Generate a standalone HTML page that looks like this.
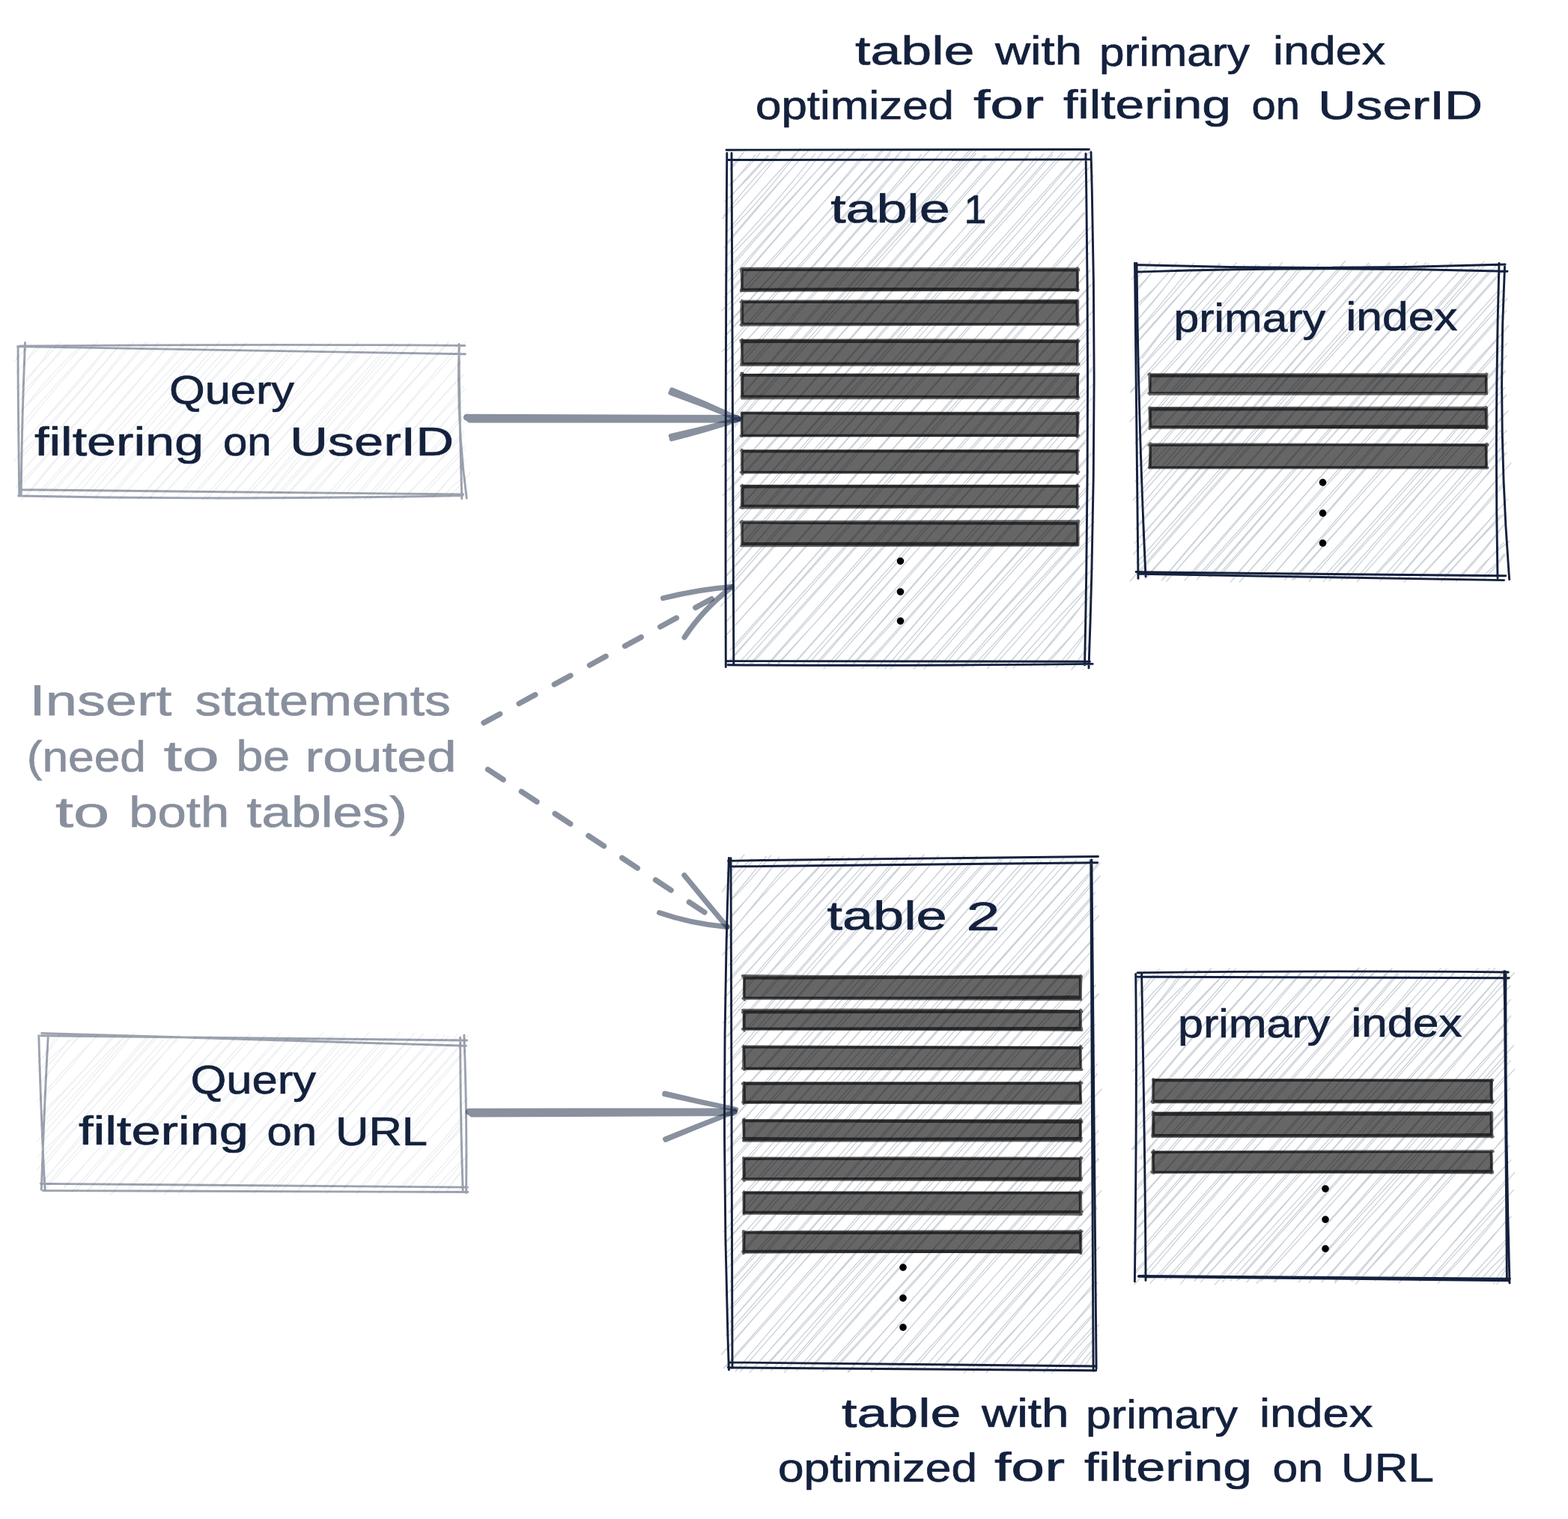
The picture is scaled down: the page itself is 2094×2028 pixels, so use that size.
<!DOCTYPE html>
<html lang="en"><head><meta charset="utf-8"><title>Tables with different primary indexes</title>
<style>
html,body{margin:0;padding:0;background:#fff}
body{width:2094px;height:2028px;overflow:hidden}
svg{display:block}
text{font-family:"Liberation Sans",sans-serif;white-space:pre}
text.dot{font-family:"Liberation Serif",serif;font-size:82px;fill:#000;text-anchor:middle}
</style></head>
<body>
<svg width="2094" height="2028" viewBox="0 0 2094 2028">
<rect width="2094" height="2028" fill="#fff"/>
<path d="M22.9 479.7C26.2 474.5 30.4 470.3 33.8 465.2M18.9 482.6C24.6 475.8 30.2 469.9 36.6 465.9M31.3 490.4C35.9 480.3 42 471.4 49 462.5M21.8 497C32.4 485.2 43.1 473.6 54.1 462M26.3 519.3C42 501.9 56.1 483.8 67.8 463.7M22.3 518.1C42.2 498.4 61 478.4 80.2 456.8M27.5 534C46.5 508 68.1 483.2 92.3 458.9M25.2 527.5C48 506 69.3 483.6 88.5 458.7M25.2 551.6C54.6 523.3 81.5 492.7 109.7 462M26.8 551.9C48.9 521.8 74.1 494.1 101.6 466.9M24.9 579.3C57.5 537.7 91.9 496.8 129.3 456.4M21.2 575.6C52.4 537.5 85 501.8 119.8 465.5M28.6 592.7C68.8 552.6 106.6 510.4 143.6 464.9M31.5 591.1C68 550.5 103.6 509.8 139.5 467M28.1 611.3C72.4 564.3 113.8 515.7 156.3 465.4M18.4 615.5C68.2 565.9 114.7 513.6 160.7 458.7M24.1 635.5C77 577.7 127.9 518.2 179 456.2M28.2 631.2C77.4 575.7 125.6 519.4 173 458.8M20.4 651.8C80.4 589.4 137.6 524.3 194.3 456.4M32.1 644.3C86.4 583.1 140.5 521.4 196.5 457.7M35.8 662.1C92 592.3 150.1 524.7 211.7 456.8M28.9 667.3C86.3 598 145.8 530 210.4 462.8M55.2 658.9C110.9 596.9 165.5 533.6 219.8 466.7M51 658.7C109.7 593.8 167.2 528.2 226.9 460.3M66.1 663.4C125.8 595.8 186.1 529 247.6 458.5M58.2 667C122 600 183 530.2 244.9 457.7M76.3 665C140.1 599.3 201.5 530.5 264.3 460.1M84.8 658.1C138.5 591.3 195.7 526.4 257.3 461.8M91 663.7C152.8 596.3 215.1 529.4 278.9 461.4M104.8 658.6C158.7 591.4 215.7 526.4 277.6 461.3M120.3 661.2C175.6 596.8 231 531.3 291 465.8M111.8 662.7C171.5 594.1 231.2 525.5 293.6 455.8M127.8 664.8C184.4 597.3 242.1 530.2 304.5 463.5M128 662.2C192.2 596.6 254.6 528.6 316.3 456.5M144 665.7C202.6 596.2 262.2 527.3 326.6 458.4M153.8 658C210.7 590.4 268.6 524.1 329.4 457.2M159 667.8C220.8 597.9 283.5 529.5 349.8 460.6M163.9 662.4C221.4 598.1 277.7 533 336.1 466.8M186.8 664.8C247.6 597.9 307 530.7 365.3 457.9M183.7 667.6C244.5 598.6 305.8 530.6 368.5 460.2M200.3 665.3C260.7 597 320.5 529.3 381.4 459.1M199 665C259.7 596.7 321.2 529.2 385.4 461.6M218.8 660C280.6 594.6 340.4 527.6 402.4 458.9M214.8 663.5C274.2 599.9 331.9 533.9 390.6 465.5M236.6 664.2C292 596 350.2 529.2 414.3 464.1M242.9 661.8C300.3 594.5 358.5 526.9 418.8 456.9M262 658.5C321.4 592.4 380.7 525.5 442 456.7M254.1 662.5C315.6 598.3 374.9 533.3 433.2 462.7M270.8 667.1C329 598.6 388.1 531 451.1 462.7M276.2 666.3C335.3 600.7 392.8 533.9 450.8 464.1M290.3 667.7C349.6 595.1 412.6 526.1 479 455.8M290.3 667.1C348.2 600.8 407.4 534.5 467.5 464.9M311.6 659.8C368.1 593.5 426.5 529.1 488.9 464.3M311.3 658.5C368 593.5 425.8 529.4 484.6 462.7M326.3 661.5C383.3 595 442.7 531.1 504.2 465.6M330.8 661.9C390.5 596.4 447.5 529.5 508.1 461.6M343.4 660.9C406.9 596.3 466.1 527.8 525.9 456.6M340.7 664.8C398.4 596.4 457 528 520.2 459.7M358.9 659.7C412.4 591.1 469.7 525.5 530.3 459.7M360.2 660.1C417.2 594.3 473.9 528.3 534.6 461.8M367.1 661.9C427.7 596.5 486.9 529.6 545.9 459M373.1 659.8C432.6 593.7 491.7 528 549.2 457.3M377.3 667.2C439.4 601.7 500.1 533.8 559.6 460.7M383.9 659.5C439.5 594.1 496.7 530.5 557.5 465.8M402.4 664.7C462.4 601.7 519.7 536 576.1 466.1M404.8 657.7C467.1 593.9 526.7 527 585.5 455.7M415.2 660.4C475.8 592.9 536.6 525.3 599.6 457.3M414.5 665.8C473.6 594.7 534 525.4 598.8 456.2M438.1 668.1C494.6 598.2 552.8 529.9 612.7 459.2M435.2 662.8C496.4 594.1 558.6 526.1 622.6 456M463 657.7C514.9 601.6 564.8 543.4 615 482.3M454.7 659.9C509.5 603 562.1 544.3 615.6 483.3M477.6 664.1C520.6 610.2 565.4 557.2 613.5 504.1M470 667.5C518.1 610.4 566.7 554.5 619.6 500.1M492.7 667C533.7 615.7 574.9 565.7 618.9 516.1M487 667C529.9 617.1 573.4 567.7 621.1 519.6M511.7 659.4C547.5 619.6 583 578.7 617.6 534.6M502.9 662.7C539 622 575.6 581.7 614.6 540.9M520.2 667.6C549.7 629.5 582.3 593 615.9 556.4M527.5 656.6C560.8 622.2 594 587.1 625.6 549.5M546 658.8C571.8 631.7 596.7 604.4 620.2 574.9M534.4 668.6C564.4 639.9 592 610.3 620.3 580.3M562.6 658.4C582.2 637.5 601.5 616.4 621.4 594.8M568.5 657.7C585.4 639.4 603.3 621 621.1 600.2M577.6 664C590.9 649.4 604.6 635 617.6 620M584.1 659.1C596.3 644.3 608.8 629.7 621.7 614M596.8 657.5C604.5 648.6 612.7 641 622.8 636.1M595.2 667.4C606.9 656.1 618.5 645.2 628 630.8" fill="none" stroke="#ccd2da" stroke-width="1.3" stroke-opacity="0.36" stroke-linecap="round"/>
<path d="M24.1 462.8C23.8 528.9 25.1 594.6 25.7 662M33.5 457.4C30.7 525.1 28.8 592.3 28.2 661.2M613 459.4Q613.5 562.5 616.8 665.7M613.2 462.4Q609.6 563.7 623.2 665M26.9 462C222.6 460.3 418.7 459.6 620.8 461.4M23.5 462.6C221 466.5 418.2 470.6 621.4 472.8M25.5 653.8Q322 657.1 618.6 660M24.6 662Q321.2 668.2 617.8 661.5" fill="none" stroke="#14213d" stroke-width="2.9" stroke-opacity="0.42" stroke-linecap="round"/>
<path d="M51.2 1417.7C62.4 1407.2 71.7 1395.7 79.4 1382.5M59.5 1407.7C64.3 1400.8 69.2 1394 72.9 1386.7M49.9 1430.6C65.8 1414.2 81.7 1398.7 99.6 1384.2M58.6 1427.1C71.3 1415.7 82.4 1403.7 91.4 1388.6M52.5 1445.8C70.5 1425.9 86.7 1405.1 103.8 1384.1M57.1 1445.4C71.3 1421.7 87.8 1400.9 108.2 1382.2M54.4 1468.6C79.6 1441.7 103.6 1413.4 127.6 1384.3M49.6 1470.1C74.9 1439.6 102.3 1410.5 131.4 1381.8M57.2 1483.9C90 1453.7 119.6 1421.4 147.7 1385.8M55.6 1490.8C88.3 1454.6 121.5 1419 154.3 1381.7M53.5 1503.9C89.2 1460.6 126.9 1420.5 168.5 1381.5M61 1501.1C98.4 1463.8 132.8 1423.5 168.1 1381.8M54.7 1527C97.4 1478.9 137.9 1430.1 179 1379M49.9 1523.7C89.6 1477.6 129.2 1431.5 171.4 1385.5M59.8 1541.6C104.4 1489.8 148.4 1438 194.5 1385.9M50 1544.7C101.8 1493.7 152 1440.9 199.5 1383.5M58.4 1558.1C105.6 1499.5 154.6 1441.6 207.8 1383.2M49.9 1561.3C101.9 1501.4 156.1 1443.6 211.4 1383.3M55.3 1581.4C106.8 1516.1 160.7 1452.4 217.7 1388.7M57.5 1576C115.7 1514 171.8 1449.9 229.4 1383.4M59.3 1588.7C121.1 1521.8 181.3 1453.4 240.1 1380.7M59.3 1585.5C115.8 1518.6 173.6 1452.7 236.8 1387.7M86.4 1585.6C144.6 1518.9 202.3 1452.4 262.1 1384.3M85.8 1584.1C145.2 1519.8 203.5 1453.9 262.1 1384.5M101.9 1589.5C161.2 1521.5 221.1 1453.9 281.3 1383.2M95.7 1591.8C155.9 1522.2 217.8 1454.1 281.9 1383.6M115.9 1591.1C173.8 1520.5 235.4 1452.8 300.6 1385.3M117.3 1590.4C177.7 1524 236.9 1456.6 298.6 1387.3M138.5 1589.5C193.8 1520.5 251.3 1452.3 314.2 1384.3M131.9 1587C194.7 1522.4 255.5 1455.8 314.7 1385M153.8 1587C211.2 1516.9 271.8 1449.4 334.4 1380.2M147.8 1595.2C209.6 1525.5 271 1455.8 334.9 1385.7M171.3 1586.9C230.1 1520.1 289.5 1453.1 351.2 1384.6M172.3 1589.6C231.2 1519.5 290.7 1451.1 354.3 1382.4M183.7 1590.8C245.7 1524 307.1 1456.8 371.5 1389.4M196.6 1586.3C257.1 1519.6 315.3 1451 374.4 1379.4M204.9 1591.6C263.5 1521.5 323.2 1452.2 386.8 1383.1M204.5 1590.1C265.2 1523.7 324.6 1457.3 384.1 1387.6M229 1588.7C286 1520.5 342.9 1453.2 402.6 1385.1M219.6 1595C281.9 1524.7 345.8 1455.5 411.2 1383.1M237.9 1593.5C297.3 1523.9 357.8 1456.1 420.4 1386.7M242.5 1590.1C302.5 1517.7 364.7 1447.8 431.7 1378.6M252.8 1594.4C316.1 1525.9 378.8 1456.4 441.6 1383.4M259.6 1591.4C319.3 1520.4 380.7 1451.6 445.5 1382.6M283.7 1584.8C341.5 1516.8 400.9 1449.8 461.2 1380.1M277.2 1587.2C339.9 1522.2 400.8 1455.5 461.2 1384.4M297 1583.8C355.3 1517.4 414 1451 477.2 1384.3M298.6 1583.9C352.6 1519.3 406.9 1453.9 465 1389.4M315 1586.6C376 1523.5 433.4 1458 490.5 1388.5M315 1586.5C371 1516.2 430.7 1447.9 492.6 1378.6M327.9 1590.2C388.5 1523.8 448.2 1457.7 508.3 1388.7M332.6 1588.3C395.1 1523.4 454.9 1455.8 515.8 1385.1M348 1590.9C410.7 1522.4 472.3 1452.3 534 1378.3M338.4 1594C400.8 1526.3 462.3 1458 523 1386.4M367.1 1590C425.6 1522 485.5 1454.7 548.1 1386.5M359.6 1592.3C423.6 1522.1 487 1451.2 553.2 1379.1M373.7 1593.3C435.7 1522.1 498.9 1451.8 565.3 1379.9M380.5 1585.6C439.4 1516.7 500 1449.1 565.1 1381M394.3 1593.9C454.7 1525.5 513.5 1457.1 575.4 1387.3M399.5 1586.8C459.3 1517.7 521.3 1449.5 585.7 1379.9M418.3 1585C479.7 1520.8 537.4 1454.1 593.8 1382.2M414.8 1586.6C474.2 1518.6 534.5 1450.8 599.3 1383.5M431.6 1587.5C488.2 1518.8 546.2 1451.3 610.1 1385.9M432.9 1585.3C489.5 1516.2 549 1448.8 611.5 1380.2M441.5 1585.4C502.6 1522.8 562.4 1458.7 621.4 1389.2M435.6 1594.2C498.9 1525.2 562.7 1456.3 625 1382.1M454.4 1591.9C506 1530.1 558.3 1470 613.8 1409.6M460.2 1586.7C515.3 1528 568.7 1466.6 622.8 1401.2M478.6 1587.4C523.1 1532.5 569.9 1479.8 620 1425.9M475.5 1594.1C523.7 1542.5 568.9 1487.7 614.8 1430.4M500.4 1586.8C537.6 1538.4 575.8 1491.7 618.8 1445.9M498.5 1585.8C536 1536.5 576.9 1490.5 620.9 1444M510.2 1588.9C547.9 1547.4 587.1 1506.8 625.9 1464.9M505.9 1594.2C544.1 1552.5 582.2 1511.1 621.6 1469.3M536.2 1586C568.5 1553.9 598.9 1520.6 626.4 1484.2M529.7 1589.3C561.6 1556.5 593.1 1523.2 621.5 1485.5M544.9 1585.7C570.7 1558.1 595.2 1529.7 618.7 1500M547.9 1584.2C569 1556.9 591.9 1530.7 618.1 1506.4M562.1 1592.7C582.9 1571.6 603 1549.3 622.1 1525.9M561.9 1588.6C580.8 1567.6 599.5 1546.4 619.1 1523.6M575.5 1594.7C588.8 1577.1 603.5 1561.5 620.4 1546.2M581.1 1594.4C596.7 1578.4 611.7 1560.6 625.9 1540.7M598 1590C604 1577.7 612.5 1566.5 623.3 1557.1M595.3 1590.4C604.6 1579.1 614 1567.8 623.5 1556.2M615.4 1586.5C617.2 1586.4 619 1585.3 621 1583.8M609.2 1591.3C614.2 1588.7 617.7 1585.1 618.3 1579.3" fill="none" stroke="#ccd2da" stroke-width="1.3" stroke-opacity="0.36" stroke-linecap="round"/>
<path d="M51.8 1382.8C53.8 1451.2 55.8 1519.8 60.2 1590M64.3 1382.7C60.5 1450.7 57.7 1518.3 55.3 1588.4M614.6 1385.3C614.9 1452.5 615.6 1520 618.2 1589.6M619.8 1381.9C622.5 1450.9 623.3 1520.4 622.6 1592.5M54.8 1382.8C242.3 1385.2 429.9 1387.6 623.6 1389M55.7 1379.4C242.9 1384.4 429.8 1390.3 622.5 1396.3M54.3 1580.3C242.8 1582.3 431 1583.7 624.4 1585.1M57.2 1589.6C244.4 1591.1 431.9 1592.6 624.9 1591.5" fill="none" stroke="#14213d" stroke-width="2.9" stroke-opacity="0.42" stroke-linecap="round"/>
<path d="M974.4 226.2C979.9 218 986.8 210.8 993.7 203M974.1 226.3C982 221 987 213.4 991.2 204.9M973 247.5C988 234.8 1002.2 220.5 1014.7 204.6M975.3 248.2C986.4 235.2 998 221.9 1008.4 207.2M975.7 263.2C991 244 1008.4 225.8 1025.8 207.2M967.1 269.6C987.8 250.3 1007.3 230.3 1026.4 208.3M964.9 291.8C992.3 263.8 1018.5 234.7 1042.2 202.3M966.5 287.9C990.1 257.4 1015.2 227.7 1043.5 199.3M970.1 310.9C998.7 273.8 1030.2 239.9 1062.5 205M978.7 304.3C1011.2 271.6 1040.3 236.6 1068.5 198.3M970.3 324.8C1005.3 283.1 1041.4 241.5 1080.3 200.4M967 331.1C1001.9 289.4 1037.3 247.6 1074.2 206M971.4 340.6C1012.6 297.5 1051 252.7 1088.6 205.2M978.3 339.3C1019.5 296.5 1059.2 251.9 1098.5 203.3M970.8 359.7C1016.2 306.7 1064.3 255.9 1113.6 203.8M967.5 367.4C1013.5 313.7 1060.9 261.5 1109.4 207.1M972.6 375.4C1023.8 315.9 1076.8 258.3 1131.5 198.5M976.4 376.5C1022.5 319.2 1071.1 264.1 1121.7 206.7M967.7 397.2C1023.9 330.8 1081.1 266.4 1141.2 201.5M976.6 389.8C1030.1 324.4 1086.1 261.1 1146.3 198.3M972.8 414.2C1034.6 347.3 1093.8 278.5 1153.6 205.9M964 414.8C1030.3 348.3 1093.4 278.4 1157.9 205.1M973.7 429.6C1043.4 354.9 1110.3 279.1 1179.1 201.6M969.9 436.2C1039.5 358.8 1108.8 281.3 1178.6 198.8M967.1 451.1C1041.5 368.5 1115.5 285 1191.7 199.5M970.5 445.9C1042.3 365.9 1113.7 286.1 1188.8 206M968.4 470.7C1044.6 384.2 1120.7 296.8 1199.8 207.3M964.4 469.5C1044.2 380.2 1123.5 290.8 1205.5 199.7M972.5 481.5C1054.3 391.3 1134.7 299.6 1215 203.8M969.7 484.5C1052.9 394.3 1133.9 303.5 1214.7 207.7M970.1 500.2C1058.7 405.7 1144.5 308.5 1230.4 206.5M978 499.5C1063.9 400 1151 300.9 1241.8 200M975.1 523C1064.9 417.4 1156.6 313.7 1252.8 208.3M970.2 522.4C1062.9 415.3 1158.7 309.8 1258 202.1M979.6 540.6C1078.4 427.6 1177.7 314.8 1280.6 199M973.3 547.8C1071.6 432 1171.4 317.1 1274.5 198.8M970.3 569.7C1078.2 447.2 1186.7 324.2 1300.1 198.7M971 565.1C1077.7 444 1185.7 322.7 1296.8 198.3M970.2 582.3C1080.6 458.3 1190.7 333.5 1303.1 205.2M972.9 576.9C1080.7 450.4 1190.2 325.4 1305.2 199.2M969.6 601.8C1086 473.8 1200.4 344.3 1315.2 207.2M972.1 603.4C1083.4 470.1 1198.5 340.5 1317.2 208M973.2 616.8C1091.3 481.8 1209.7 347.7 1330.8 209.2M964.4 622.8C1090.5 483.6 1216.3 344.3 1343.3 198.8M969.4 643.5C1093.8 498 1219.5 354.9 1350.2 207.9M973 639.2C1100.1 494.7 1227.4 349.5 1358 199M974.3 654.3C1110.9 506.3 1244.6 356.1 1379.1 198.9M965.4 661.4C1101.9 514.2 1235.9 364.2 1373 208.2M972.4 673.7C1111.3 518.7 1249.6 363.4 1393.8 205.2M974.2 676.3C1107.6 520.9 1244.2 366.8 1385 209M971.1 696.2C1116.9 536.1 1260 374.3 1405.7 206.4M969.4 697.9C1114.9 535.4 1259.5 371.8 1406.5 202M970.1 717.7C1117.6 546.3 1267 377.6 1422.1 204.6M970.5 712.5C1116.6 543.3 1263.9 375.4 1418.2 204.3M973.7 730.3C1132 558 1288.6 383.6 1445.8 200.7M972.7 731.1C1126.2 554.1 1283.2 379.2 1445.8 199.3M968.5 752.3C1127.9 573.1 1287.1 393.1 1450.3 207.2M978.9 746.4C1134.7 563.9 1292.5 383.8 1457.3 200.5M967.8 770.5C1129.6 589 1291.1 406.6 1458.7 219.3M970.7 768.8C1127.5 589.1 1285 408.7 1448.8 224.3M977.1 780.8C1133.4 603.5 1288.4 425.1 1448.2 241.6M970.4 783C1131.3 601 1292.6 420.2 1460.4 234.5M962.2 809.6C1121.9 626.3 1283.4 445.5 1451.1 261.2M972.7 798.4C1131.6 622.3 1289.5 444.4 1451.2 260.3M977.3 822.3C1132.3 644.7 1287.2 466.6 1448.9 284.4M969.9 830.2C1129.5 652.4 1287.1 471.5 1447.7 283.4M967.3 850.8C1129.6 672.6 1288.6 492.4 1450.7 304.6M971.4 846.3C1132.5 666.3 1292.9 485.9 1459 300.7M975 868C1136.3 689.2 1295.5 509.5 1456.6 322.4M979.6 866.9C1137.4 687.5 1295.3 506.8 1457.8 319.3M971.5 884.4C1132.9 705.4 1292.7 525.1 1455 337.6M968.6 890.3C1125.4 708.1 1283.1 528.1 1448.1 345.9M987.9 883.8C1144.2 712.9 1299.5 540.5 1456.1 360M992.3 886.4C1146 714 1298.3 540.5 1455.3 361.7M998.6 889.4C1150.7 722.1 1301.5 553.7 1456.5 379.9M1003.6 886.8C1154 720.2 1303.9 552.7 1458.6 379M1025.3 886.2C1167.1 725.7 1308.7 565 1454.8 398.3M1026 887.1C1170.5 728.3 1311.1 566.2 1455.2 398.7M1036.4 890.2C1176.1 733.2 1316 576.5 1459.4 414.9M1039.3 885.3C1180.3 732.5 1319.5 577.9 1459.7 415.6M1058.3 889C1190.2 740.9 1321.4 592.3 1453.8 437.2M1062.9 882.7C1192.9 736.2 1322.9 589.3 1456.8 438.7M1081.5 884.3C1204.1 742.3 1327.9 601.4 1455.5 457.2M1070.6 888.8C1197.6 747.7 1322.6 605.4 1450.6 458.1M1092.2 886.4C1209.8 750.6 1327.7 615.4 1449.6 476.3M1091.5 883.9C1212 748.4 1332.8 613.3 1456.5 473.6M1112.1 885.4C1227.2 754.9 1341 624.4 1458.7 490.4M1100.1 892.9C1217.7 760.6 1336.3 628.5 1458.7 493.4M1126.5 888.7C1234.5 762.2 1344.5 637.2 1461.2 511.6M1130.5 884.6C1234.5 764.1 1340 644.1 1447.9 519.9M1137 890.4C1246.6 774.8 1352.7 656.3 1459.1 530.7M1139.3 885.8C1244.5 771.7 1346.9 654.9 1450.1 533M1151.5 892.5C1251.3 782.5 1349.3 670.9 1449.1 554.7M1161.1 885.2C1259.7 774.9 1357.1 663.6 1455.2 547.1M1172.7 890.2C1264.6 782.1 1358.4 674.5 1457.9 566.6M1171.1 892.6C1261.7 787.1 1352.9 681.8 1448.5 574.8M1189.3 893C1273 791.3 1358.9 691.7 1449.1 591M1181.8 892.7C1270.3 790.7 1359.3 688.2 1452.8 584.8M1208.5 884.4C1292.1 791.6 1377 698.9 1461.8 601.6M1205.2 884.8C1290.1 795.4 1372.4 702.8 1456 605.3M1220.6 892.8C1298.1 806.9 1375.1 719.5 1454.3 629.7M1222.1 889.6C1300.3 807.4 1375 723.3 1448.5 634.2M1234.1 893C1304.6 809.7 1377.5 727.7 1455.9 645.4M1241.3 889.2C1310.1 809.3 1379.9 730.9 1453.3 652.2M1262.3 887.4C1322.6 812.9 1385.7 741.7 1451.7 668.7M1260.2 883.4C1325.2 810.5 1390.4 737.1 1459.2 663M1272.8 886.6C1332.9 823.2 1391.1 756.8 1450.8 687.5M1270.7 889.1C1335.1 822.4 1397.3 754.1 1459.5 681.7M1288.5 889.5C1344.7 828.7 1398.8 766.6 1456.1 702.5M1284.7 891.4C1341.3 824.7 1399.9 761.1 1461.2 696.5M1298.1 890.9C1351.5 834.1 1403.5 776.2 1456.5 716.2M1306.3 888.5C1355.2 830.3 1405.3 773.8 1459.6 717.9M1328.7 887.5C1371.6 840.8 1412.3 792.5 1454.2 742.5M1318.6 892.6C1363.6 839.4 1410 788.5 1459.3 738M1342.5 891.7C1379.2 850.2 1415 808.3 1451.2 764.2M1346.3 886.6C1383.5 844.3 1420.8 801.5 1460.1 758.5M1353.1 892.1C1386 853.2 1421 815.5 1458.4 777.7M1365.9 885.6C1397 852.6 1426 818.6 1454.9 783M1375.7 890.1C1401.5 863 1426.2 834.7 1448.6 802.7M1380.5 886.8C1403.7 856.7 1427.6 826.2 1455.5 796.6M1393.6 888C1415.8 865.8 1437.4 842.7 1456.9 817.2M1394.5 890.6C1414.4 870 1432.3 847.8 1450.5 824.8M1419 888.4C1430.9 875 1441 860.1 1450.4 844.5M1410 891.4C1422.7 876.9 1434.8 862.4 1447.6 846.9M1435 890.3C1439.2 881.7 1444.7 873.6 1451.8 866.2M1430.9 894.2C1438.3 882.7 1447.1 872.3 1455.2 860.6" fill="none" stroke="#ccd2da" stroke-width="1.3" stroke-opacity="1.0" stroke-linecap="round"/>
<path d="M970.8 204.5Q968.4 547.5 969.3 890.6M977 204.5Q979 546.2 979.8 888M1450 205.2Q1455.7 546.5 1448.6 887.9M1457 203.2Q1466.5 547.6 1454 891.9M970 200.3C1130.1 199.2 1289.9 199.8 1454.4 199.5M971.7 213.5C1131.7 213.9 1291.3 212.9 1455.7 212.9M970.9 882.6C1130.7 881.4 1290.6 882.3 1455.5 883.3M972.3 887.7C1132.8 888.9 1293.4 888.3 1459.2 886.4" fill="none" stroke="#14213d" stroke-width="2.9" stroke-opacity="1" stroke-linecap="round"/>
<path d="M1511.5 373.3C1514.4 367.3 1518.9 362.1 1524.5 356.6M1518.4 370.5C1525.8 365 1531.6 357.7 1536.4 349.1M1520.7 382.8C1531 372.4 1540.8 361.9 1549.4 350.2M1515.6 391C1526.6 378.9 1536.8 366.1 1547.6 352.1M1522.1 407.1C1538.8 389.6 1555 370.4 1571.4 350.4M1520.6 404.6C1536.4 391.3 1550.3 376.1 1563.8 360.2M1518.4 427.7C1537.2 405.2 1556.5 383.1 1574.5 359.3M1517.5 429C1537.2 407.4 1555.9 384.8 1573 359.3M1514.9 446.5C1542.8 416.4 1568.3 384.1 1594.1 351.3M1518 444.3C1545.3 416.7 1572 388.3 1596.5 355.4M1517.4 458C1546.2 424.4 1575.7 391.1 1607.9 358.3M1514.6 461.5C1547.1 427.4 1577 391.6 1607.9 355.1M1516.3 486.5C1551.8 440.9 1588.7 396.5 1628.6 351.7M1525.4 478.3C1557.3 434.3 1591.8 393.3 1630.2 353M1521 494.2C1565 447.5 1607.9 400.4 1651 350.8M1516.3 498.5C1555.6 451.4 1595.5 405.1 1637.2 358.2M1509.3 523.6C1556.4 466.8 1604.8 412.3 1657.8 358.6M1510.1 523.8C1562.6 469.7 1613.2 414.1 1661.9 353.8M1518.7 533.4C1572.2 474.8 1625 415.7 1677.9 352.8M1521.7 532.8C1576.5 476 1628.6 416.9 1681 354.3M1527.1 552.8C1579 486.3 1634.2 422.3 1692.8 356.8M1508.6 563.1C1572.7 494.7 1635.4 425.5 1697.1 351.4M1523.2 571.5C1581.8 500.1 1641.2 430.1 1704 360M1519.3 578.1C1584.7 504.6 1648.1 429.1 1712.4 350.3M1519.7 586.4C1585.9 507.1 1654.8 431.4 1727 354M1515.5 591.9C1585.8 517.2 1652.8 439.3 1720.9 358.4M1522 604.8C1593.5 524.4 1664.8 442.7 1735.5 356.2M1517.2 608.5C1592.4 526.1 1666.4 442.3 1741.1 355M1526.4 622.5C1602.7 533 1679.5 443.1 1761.2 352.1M1516.4 626.6C1597.4 538.9 1676.8 449.6 1758 357.3M1515.8 643C1602.5 549.6 1687 455 1772.4 356.2M1520.6 646.5C1603.7 551.9 1685.5 457 1769.1 359M1516.8 669.5C1607.6 565.5 1697.7 460.9 1793.9 354.8M1513.2 667.7C1604.3 560.3 1698 455.3 1796.4 348.7M1525.1 682.6C1616.7 573.1 1710.8 465.9 1809.4 356.6M1519.8 679.8C1611.9 571.3 1707 464.9 1806.3 355.6M1518.1 702.8C1619.4 585.1 1723.3 470.6 1829.6 353M1516.5 706.7C1619 590 1722 472.7 1827.7 351.3M1525.3 715.3C1626.4 596.7 1728.8 478.8 1835.4 359.6M1515.1 725.3C1623.3 605.1 1728.6 482.7 1836 355.7M1516.4 736.5C1626.1 606.9 1738.5 480.2 1856.6 352.2M1513.8 739.8C1626.6 611 1739 482.4 1855.3 350.2M1517.8 751.4C1633.7 621.6 1749.4 491 1866.4 354.8M1521.5 754.6C1637.3 619.8 1756.1 487.1 1878 351M1519.6 767.2C1640.2 627.6 1763.5 490.1 1892.3 349.6M1509.4 775.7C1631.4 635.8 1753.7 496.7 1881.5 354.8M1530.2 772.4C1653.3 633.3 1777.5 494.6 1907.6 352.3M1528.6 772.1C1654.7 634.7 1778.9 495.7 1904.6 350.2M1553.2 773.4C1669.5 635.7 1788.2 499.3 1912.6 360.2M1551.1 775C1668.8 635 1789.9 498.1 1915.5 358.2M1565.3 768C1686.5 628.1 1810.2 490.8 1938.9 350.5M1557.8 776.2C1681.6 638.5 1805.2 500.8 1931.4 358.6M1582 775.1C1703.1 633.7 1827.8 494.8 1958 352.1M1589.6 769.6C1707 631.2 1827.2 495.3 1953.1 356.9M1598.5 773.9C1723.5 636.1 1845.4 496.8 1971.4 353.1M1599.6 768.9C1721.5 634.6 1841.3 498.3 1964.4 357.8M1614.3 770.7C1733.9 631.3 1856.9 494 1983.5 353.3M1616.4 770.9C1735.9 630.4 1856.4 491.1 1982.1 348.9M1631.6 766.4C1749.1 631 1868.7 497 1991.4 359M1626.7 768.2C1748.8 631.8 1871.6 495.7 1997.9 355M1643.4 777.2C1760.7 638.6 1880.8 502.7 2005.6 363.2M1651.8 766.3C1768 630.2 1885.3 496 2007.3 358.9M1655.3 777C1772.6 648.3 1888.3 518.4 2008.6 385.8M1662.9 768.4C1773.4 641.1 1886.1 515.2 2002.8 385.9M1684.3 768.3C1793.1 645.8 1901.2 523.3 2009.6 395.3M1681.7 766.2C1789.6 644 1898.6 522.5 2012.8 398.8M1696.2 772.7C1795.8 654.9 1897.5 539.1 2002.8 421.3M1699.3 769.4C1801.8 651.4 1904.1 533.8 2011.8 414.4M1715.9 774.4C1811.6 660.7 1910.3 548.6 2014.8 434.7M1717.8 771.6C1815.6 663.7 1911.4 554.6 2009.7 441.5M1725.5 774.1C1818.6 672.3 1910.6 568.8 2004.6 461.7M1728 774.4C1820.4 668.6 1913.6 564 2012.6 458.4M1748.1 776.5C1832.5 679.1 1917.9 582.6 2007.1 483.7M1751.5 766.2C1840.1 672.4 1925.3 575.4 2011.9 475M1770.2 767.2C1850.7 678.8 1930.6 588.5 2010.6 494.3M1767.3 776.4C1849.5 685.9 1930 594 2009.9 496.7M1775.2 775.5C1853 690.2 1929.6 604.9 2005.7 514.3M1781.2 770.1C1859.9 688.6 1934.6 604.8 2009.7 517.2M1791.2 774.7C1863.5 693 1936.2 611.1 2011.3 528M1798.7 773.3C1867.6 691 1937.8 609.5 2011.7 527.1M1812.7 770.7C1877.1 694.8 1943.8 621.9 2014.1 548.1M1812.4 776.3C1879.7 702 1947.1 627.7 2013.3 549.1M1835.6 767.8C1892.1 705.5 1947.7 641.4 2003.9 574.5M1836.9 768.7C1896.3 705.5 1953.5 640.8 2012.1 574.5M1843 775.5C1897.4 713.5 1952.6 652 2011.9 590.6M1855 770C1905.9 710.7 1957.8 653.1 2010.1 593.1M1867.4 771.3C1914 715.7 1962.4 660.7 2012.3 604.4M1869.9 769.6C1916.3 716.1 1962.4 661.6 2009.3 604.9M1875.2 777C1923.9 725.9 1971.7 674.4 2018 617.9M1882 768.9C1925 723.3 1966.8 677.5 2008.7 628.5M1896.7 769.9C1934.8 729.8 1971.8 688.1 2008 643.9M1894.1 773.8C1932 733.5 1970 692.3 2007.5 648.6M1917.5 773.1C1948.9 739.5 1980.9 705.7 2010.7 669.1M1921 766.9C1952.3 734.5 1983.3 701.7 2013.3 666.4M1931.4 767.6C1955.5 740.8 1979.6 714.3 2004.1 687.7M1924.4 776.8C1952.1 744.9 1980.2 714.5 2011.1 684M1948.5 770.3C1969.9 747.8 1989.2 724.6 2008.9 700.1M1944.3 776.9C1966.7 753.9 1987.6 730 2006.4 703.3M1964.9 771.8C1979.6 753.5 1996 736.7 2016.2 722.4M1969.5 770.1C1981.9 754.2 1994.1 738.6 2008.6 724.1M1981.4 772.7C1992.4 763 2002.5 751.8 2011.1 738.8M1982.5 767.2C1992.2 759.2 2001.7 750.9 2008.2 739.7" fill="none" stroke="#ccd2da" stroke-width="1.3" stroke-opacity="1.0" stroke-linecap="round"/>
<path d="M1515.5 351.2Q1518.2 561.8 1520 772.4M1518 351.4Q1520 560.5 1530 769.6M2002 351.4Q1996 561.5 2000 771.7M2009.5 355.8Q1999.4 564.7 2015.7 773.6M1517.3 353.5Q1763.7 361.4 2010.1 353M1519.6 363Q1766.3 354.8 2013 362.2M1517.1 763.5C1680.5 766.6 1843.5 767 2010.8 768.8M1519.7 766.3C1681 767.8 1842.4 771.1 2008.6 774.6" fill="none" stroke="#14213d" stroke-width="2.9" stroke-opacity="1" stroke-linecap="round"/>
<path d="M978.8 1160.4C983.7 1154.3 988.4 1148 993.8 1141.1M970.5 1165.9C977 1163.7 981.8 1159.2 984.6 1152.2M964.1 1190.8C975.1 1173.4 988.3 1159.3 1004.4 1146.5M971.5 1189.7C981.7 1174.9 993 1161.1 1006.8 1148.3M977.4 1201C995.2 1182.8 1012.6 1163.6 1029.5 1142.2M976.2 1200.5C992.4 1182.1 1007.4 1162.4 1023.4 1143.5M974.9 1226.6C997.5 1202.3 1017.3 1175.5 1038.4 1147.9M975.5 1223.8C999.7 1199.3 1021.4 1173.5 1040.5 1144.3M968.5 1254.3C998 1217.8 1029.5 1182.3 1065 1147.9M971.7 1251.1C998.1 1217.9 1025.1 1184.2 1054.9 1150.9M973.1 1265.2C1009.5 1226.1 1045.2 1186.2 1084.7 1147.7M964.6 1275.1C1002.5 1233.7 1041 1192.6 1080.6 1151.4M972.6 1289.3C1016.9 1240.6 1062.1 1192.6 1108.1 1143.1M978.9 1287.9C1019.4 1238.3 1060.8 1189.9 1106.8 1143.2M968.3 1313C1017.2 1259.1 1065.3 1204.7 1114.5 1148.6M974.5 1309.5C1024.2 1253.6 1073.4 1198 1126.4 1142.9M973.5 1324.6C1025.2 1267.9 1077.3 1211 1130.5 1151.6M966.9 1333C1022.7 1270.6 1078.8 1209.6 1134.3 1144.4M976 1345.5C1029.1 1279.4 1085.5 1215.7 1145.4 1150.6M971.9 1344.4C1029 1275.6 1089.3 1209.2 1153.2 1141.1M972.5 1366.3C1031.5 1293.4 1091.5 1222.4 1156 1151.9M965.2 1365.8C1035 1293.8 1102.1 1219.8 1169.9 1142.5M972.3 1383.2C1040.5 1307.2 1108.6 1230.9 1176.6 1150.4M969.3 1384.6C1036.6 1306.9 1105.1 1229.3 1176.6 1150.8M972.2 1400.7C1048.7 1317.1 1123.2 1232.2 1197.9 1143.8M975.8 1402.4C1049.4 1317.6 1122.9 1233.2 1199.1 1147.3M970.5 1421.4C1048.3 1326.8 1129.5 1234.7 1215.6 1141.7M977.3 1416.4C1057 1327.6 1134.7 1236.7 1214.2 1143.6M974.1 1436.1C1058 1338 1144.7 1242.8 1234.5 1144.7M968.7 1442.7C1054.4 1341.3 1141.5 1241.6 1234.2 1141M964 1465.3C1061.5 1360.8 1156.6 1253.9 1253.5 1142.1M966.2 1463.5C1059.8 1359.7 1153.7 1256 1249.2 1146.7M972.4 1476.8C1072.1 1371.3 1168.9 1262.7 1267.2 1148.8M968.6 1481.2C1066.6 1372.2 1163.9 1263.8 1265.3 1152.1M976.5 1496.7C1080.9 1385.5 1182 1271.2 1285.5 1152.4M971.1 1503.3C1074.4 1383 1178.7 1263.7 1287.8 1142.2M971.1 1519.8C1080.6 1396.3 1190.4 1273.8 1303.4 1147.5M975.1 1517.1C1081.9 1391.5 1190.9 1268.1 1304.6 1142.7M971.9 1537.1C1087.6 1409.7 1201.2 1281.3 1318.8 1149.6M966.4 1540.7C1079.3 1409.7 1195.4 1281.8 1315.4 1150.2M978.2 1552.1C1098.4 1418.7 1216.6 1284 1337.6 1144.4M970.8 1556.2C1093.5 1422.3 1214.4 1287.8 1338.2 1147.7M975.3 1577.4C1095.9 1434.1 1220.3 1294 1349.7 1150.2M969.2 1577.4C1096.4 1436.8 1222.1 1294.9 1350.9 1147.7M977.6 1595.9C1108.2 1449.5 1238.9 1302.8 1371.5 1150.2M967.6 1600.2C1098.6 1448.8 1231.2 1299.6 1368.4 1147.8M973.3 1618C1108.3 1460.2 1244.9 1304.7 1387.6 1146.9M974.4 1619.5C1113.6 1465.9 1250.6 1310.8 1390.1 1149.8M966.3 1644.5C1108.5 1480.5 1251.8 1317.9 1400.8 1151.7M974.3 1642C1115.8 1477.6 1257.7 1314.4 1404.3 1147.6M968.5 1658.7C1117.7 1489.1 1265.9 1319.6 1420.4 1146.1M967.5 1661.3C1118.5 1491.4 1269.6 1322.5 1426.2 1148.9M971.9 1678.3C1125.9 1502.9 1278.5 1327.3 1437.3 1147.9M969.8 1673.4C1124.1 1501.5 1277.8 1328.3 1437.1 1150M971.9 1692.7C1130 1513.9 1288.6 1335.4 1451.9 1151.7M977.9 1689.7C1133.4 1508.8 1290.2 1329.8 1454.9 1148M980.6 1707.4C1143.9 1525.6 1305.6 1343.4 1469.1 1152.1M975.1 1711.2C1134.9 1525.9 1296.4 1341.3 1465.5 1153.8M968.6 1730.1C1130.6 1548.6 1292.8 1367.3 1457.8 1177.9M977.9 1725.7C1137.3 1540 1299.4 1356.1 1469.2 1169.5M972.6 1748.9C1134.1 1564.5 1295.2 1380 1462.4 1191.5M978.3 1746.1C1136.6 1564.2 1294.9 1383.3 1459.1 1198.2M975.8 1764C1135 1579.5 1295.9 1395.8 1464.2 1209.3M972.8 1768.1C1132.2 1584.5 1292.6 1401.7 1457.7 1212.6M971.6 1785C1135.1 1602.8 1296.3 1419.7 1460.4 1230.2M969.2 1783C1133.1 1597.6 1296.4 1412 1467.4 1222.7M970.5 1801.9C1129.1 1618.2 1290.9 1437.2 1459.9 1253.3M963.3 1808.5C1126.9 1623.4 1291.3 1440 1461.8 1252.6M970 1824.7C1133.2 1643.4 1294 1460.4 1457.9 1269.4M966.3 1826.8C1126.4 1643.6 1287.3 1460.8 1454.2 1273.6M982.3 1831C1135.2 1651.3 1290.9 1474.1 1455.2 1293.9M988.7 1831C1145.2 1653.8 1301 1475.4 1460.7 1290.9M1005.4 1827.7C1156.6 1658.9 1307.9 1490.1 1463.1 1315M1001.3 1832.4C1151.8 1660.8 1302.8 1489.6 1462.5 1316.5M1016 1830.4C1164.5 1663.7 1312.8 1497.5 1466 1327.1M1023.8 1823.3C1171.8 1661.9 1318.5 1498.4 1467.4 1326.9M1029.6 1830.6C1171.6 1670.3 1313.5 1510.5 1460.1 1347.3M1040 1827.8C1176 1667.2 1314.2 1509.3 1458 1347.5M1047.8 1832.2C1182.8 1677.3 1319.4 1523.7 1462.8 1367.9M1047.3 1829.1C1182.3 1674.3 1318.3 1520.5 1460.6 1365.5M1063.8 1830.1C1191.5 1682.7 1319.7 1535.8 1453.9 1386.3M1070.9 1827.5C1200.4 1684 1328.4 1537.9 1458.7 1385M1079.8 1828.8C1205.7 1686.1 1332 1543.1 1462.4 1395.5M1084.9 1825.6C1209.1 1685.1 1332.8 1543.7 1461.1 1398.5M1098.7 1831.3C1220.5 1696.5 1342.4 1562.1 1465.7 1420.4M1103.7 1829.9C1223.1 1696 1340.5 1561.5 1460.5 1422.3M1112.9 1827.9C1231.3 1699.4 1348.4 1569.8 1465.5 1433.3M1115.8 1827C1233.3 1700.6 1348 1571.8 1463.7 1436.5M1133.4 1831.9C1242.9 1705.2 1354.9 1581 1471.2 1454M1132.1 1831.6C1241.1 1709.2 1349.9 1586.4 1460.7 1458.7M1149.4 1826.8C1251.4 1711.3 1354.8 1597.9 1460.4 1480.1M1154.1 1823.3C1252.8 1706.6 1352.1 1592 1457.2 1476.3M1163.2 1831.2C1263.3 1719.9 1362.4 1608.6 1461.8 1490.6M1172.4 1822.8C1268.3 1711.4 1365.5 1601.8 1466.2 1489.6M1184.4 1828.6C1275.8 1722.2 1368.7 1616.8 1467 1509.6M1189.9 1826.1C1279.9 1721.4 1371.6 1617.5 1466 1511M1194.2 1829.4C1287.8 1731.9 1376.9 1630.9 1467.1 1526.4M1199.3 1827.4C1286.7 1728 1372.5 1627.7 1461.9 1525.8M1221.7 1826.9C1301.4 1733.9 1382.4 1641.8 1467.2 1547.9M1213.9 1829.1C1299.4 1737.5 1382.6 1644.2 1466.7 1546.6M1231.7 1829.1C1307.5 1743.8 1383.9 1659.6 1462.2 1572.7M1244.8 1824.4C1318.9 1741.6 1392.6 1658.8 1466.3 1570.3M1260.7 1825.2C1328.8 1746.6 1398.4 1669 1470.8 1589.6M1255.1 1828.5C1329.3 1751.9 1400.7 1673.4 1470.7 1589.7M1273.8 1828.4C1335.4 1755.2 1397.6 1683.2 1465.2 1613.3M1269.8 1829.9C1336.1 1759.4 1401 1687.7 1464.3 1611.1M1287.6 1833.2C1341.8 1766.5 1398.8 1702.8 1459.6 1639.2M1298.7 1826.2C1350.3 1761.7 1402.9 1698.6 1458.9 1635.5M1309.1 1826.4C1362.4 1770.1 1412.1 1711.7 1461.8 1649.4M1299.8 1832C1356.3 1776 1409.6 1717 1463.5 1655.6M1317.9 1831.5C1365.9 1775.3 1415.8 1720.5 1468.1 1665.3M1317.3 1832.5C1365.9 1776.3 1415.3 1720.8 1468 1664.9M1338.4 1827C1380.3 1782.1 1421.7 1736.5 1462.7 1687.1M1346.5 1823.1C1386.6 1781.6 1425 1739 1463.1 1694.6M1357.3 1828C1393.8 1791 1429 1752 1463.3 1710.1M1358.2 1830.2C1392.3 1789.7 1427.4 1750.6 1465.9 1712.5M1374.9 1831.7C1404.5 1800.3 1433.9 1768.7 1463.5 1735.1M1376.6 1830.7C1408.1 1798.5 1437.1 1764.1 1465.8 1727.8M1394.4 1832.5C1415.4 1807.3 1436.9 1781 1460.9 1755.5M1393.9 1832.1C1413.7 1804.8 1435.2 1779 1458.9 1754.9M1414.3 1826.4C1432.2 1807.6 1449.2 1787.9 1467.5 1768.5M1404.6 1833.6C1421.8 1811.4 1441.4 1791.3 1461 1769.8M1428.4 1827.9C1441.5 1813.6 1453.6 1799 1465.4 1782.6M1428.7 1827.2C1436.8 1813.1 1447.7 1800.7 1459.6 1788.4M1439 1828.9C1444.2 1818.8 1450.8 1809.7 1459.8 1802.4M1448.1 1824.7C1452 1819.5 1455.3 1813.6 1459.3 1807.7" fill="none" stroke="#ccd2da" stroke-width="1.3" stroke-opacity="1.0" stroke-linecap="round"/>
<path d="M973.4 1145.5Q961.6 1487.2 973.4 1828.9M976 1145.7Q978 1486 978 1826.3M1457.9 1147.9C1460.2 1371.8 1463.1 1596 1464.1 1827.3M1456.8 1148.4C1456.5 1373.1 1457 1598.1 1460.1 1830.3M972.5 1149.4C1135.9 1146 1298.8 1145.1 1466.5 1143.5M973.6 1156.9C1135.9 1155.6 1298.2 1154.1 1465.7 1151.7M974.4 1818.9C1135.3 1819.7 1296.3 1821.4 1462.5 1824M972.4 1825.8C1134.8 1828.4 1297.1 1829.1 1463.8 1829.8" fill="none" stroke="#14213d" stroke-width="2.9" stroke-opacity="1" stroke-linecap="round"/>
<path d="M1518.8 1312.9C1518 1309 1519.6 1305.5 1523.3 1303.3M1516.1 1313.2C1521.2 1307.8 1525.3 1302.1 1529.1 1295.6M1521.3 1326.9C1529.3 1315.6 1537.3 1304.1 1548.1 1293.9M1521.1 1329.8C1530.3 1319.6 1539.7 1309.1 1549.1 1297.9M1524.6 1349.3C1536.7 1334 1550.8 1319.2 1563.9 1302M1515.3 1356.5C1529.5 1334.8 1546.7 1316.9 1565.7 1300.3M1523 1365.7C1541.9 1345.8 1558.4 1324.4 1574.7 1301.8M1518.4 1369.7C1542.7 1346.7 1564.3 1321 1584.6 1293.5M1516.9 1390.1C1545.2 1358.9 1573.3 1328.6 1600.1 1294.9M1515.5 1385.2C1541.7 1352.8 1570.9 1323.8 1602.2 1295.5M1525.3 1399.4C1555.8 1366.1 1586 1331.2 1616.2 1294.6M1522.3 1400C1552.9 1363.1 1583.6 1327.6 1617.7 1292.8M1512.6 1430.4C1552.9 1387.8 1592.7 1345.1 1634.8 1300.7M1518.9 1423.2C1558.7 1378.6 1599.1 1335.5 1642.4 1292.7M1519.1 1450.8C1560.8 1401.5 1602.7 1352.6 1646.2 1303M1515.5 1447.1C1560.3 1396 1604.8 1345 1650.2 1293.5M1519.2 1471.6C1568.5 1413 1617.9 1354.4 1671 1295.2M1520.2 1473.3C1569 1413.9 1618.3 1355.1 1669.9 1295.3M1516.1 1493.1C1573 1428.3 1630.6 1363.6 1689.6 1296.5M1516.5 1488.9C1572.3 1426.6 1628.5 1364.6 1685.8 1299.7M1515.7 1507.1C1580.7 1441.4 1642.7 1372.7 1705.2 1301.8M1522.7 1506.4C1581.2 1436.5 1641.2 1368.8 1705.9 1301.6M1512.9 1534.8C1583.8 1456.9 1653.3 1379 1721.9 1295.8M1511.6 1534C1580.5 1454.7 1650.9 1376.4 1724.1 1296.5M1524 1547.3C1592 1463.3 1661.9 1381.2 1736.5 1299.1M1521 1547.1C1594.8 1466.2 1667.2 1383.6 1739.7 1297.1M1519.1 1565.8C1596.6 1474.7 1676.4 1386.4 1760.2 1296.8M1520.5 1565.1C1601.1 1479.3 1679.5 1392.1 1758.6 1300M1516.3 1590.4C1600.1 1493.9 1684.4 1397.2 1772.1 1297.9M1520.5 1581.8C1601.5 1488.2 1683.7 1395.2 1770.4 1301.5M1516.5 1607.9C1606.4 1506.6 1696.3 1405.2 1788.5 1300.8M1519.7 1602.5C1608.6 1505.1 1696.6 1406.6 1784.7 1304.2M1520.9 1620.4C1616.3 1510.1 1714.1 1402.8 1815.3 1292.2M1516.4 1629.1C1614 1516.7 1712.1 1406 1813.4 1293.1M1517.2 1640.5C1616.8 1524.9 1718.1 1410.3 1824.5 1292.8M1521.1 1638.1C1620.1 1525.8 1720 1413.5 1823.8 1297.4M1513.8 1659.6C1619.9 1537.9 1726.5 1417.5 1838.6 1295M1513.7 1660.1C1620.4 1542.6 1725.2 1423.6 1832.5 1300.2M1524.2 1672.4C1632.7 1545.7 1743.3 1420.4 1858.9 1293M1514.7 1678.9C1622.7 1551.6 1734.2 1427.4 1850.6 1300M1515.9 1697.4C1632.7 1567.8 1747.9 1436.1 1865.5 1299.7M1516.8 1699.5C1634.6 1569.6 1750.4 1437.5 1867.5 1300.5M1530.4 1704.9C1643.5 1570.3 1758.1 1436.9 1878.5 1301.8M1514.9 1715C1635.1 1577.4 1757 1441.8 1882.7 1302M1547.2 1705.5C1666.4 1573.2 1784.1 1439.1 1901.9 1297.6M1536.1 1713.3C1659.5 1575.6 1782.7 1438.5 1908.9 1296.2M1555.8 1709.3C1681.5 1574.1 1805.5 1436.3 1931.7 1293.5M1562.7 1707.8C1679.4 1568.7 1798.8 1431.6 1924.2 1292.6M1576.6 1714.1C1694.7 1574.3 1815.4 1436.8 1942.8 1298.1M1580.8 1704.9C1698.7 1571 1817.8 1437.1 1940.9 1299.3M1595.4 1710.2C1714.1 1574.7 1832.9 1439.3 1956.5 1300.5M1596.1 1707.7C1711.8 1572.1 1830.9 1439.6 1954.6 1303.4M1603.5 1711.6C1727.4 1575.6 1849.5 1437.2 1973.9 1292.6M1607.2 1707.7C1731.5 1575.4 1853 1441.3 1975.6 1301.2M1625.8 1707.7C1747.7 1571.1 1870 1433.8 1996.5 1292.5M1622.4 1715.1C1744.5 1576.1 1864.6 1436.3 1989.2 1293M1632.7 1711.3C1757.7 1575.8 1882.2 1439.4 2007.2 1297.4M1643.3 1709.9C1765.9 1574 1886.4 1437.1 2009.7 1295.2M1651.9 1709.6C1771.7 1572.4 1894.4 1437.1 2022.5 1298.5M1654.7 1708.2C1774.4 1575.6 1892.7 1441.9 2012.1 1302.1M1675.2 1704.1C1785.3 1573.6 1898.3 1446.2 2017.2 1315.9M1665.1 1711.7C1781 1585.1 1894.1 1456.4 2010.1 1323.5M1678.5 1713.3C1787.4 1588.3 1898.1 1465.9 2013.4 1340.5M1684.2 1710.3C1796.5 1588.6 1906.4 1464.2 2017.4 1334.3M1703.3 1711C1805.8 1595.3 1908 1479.9 2014.4 1362.8M1701.5 1711.2C1808.8 1596.5 1911.8 1478.3 2017.8 1356.2M1725.2 1703.5C1820.9 1600.5 1915.7 1495.9 2010.8 1385.3M1725.6 1707.7C1819 1597.7 1913.2 1488.4 2014.8 1379.3M1735.1 1710.7C1831.5 1608.4 1925.8 1504.3 2021.5 1395.5M1734.4 1711.9C1826.8 1608.4 1918.6 1503.9 2012.6 1396.8M1750.4 1707.6C1841.3 1613.2 1929.2 1516.7 2017.3 1415.9M1747.8 1712.8C1832.7 1610.9 1921.5 1511.9 2013.2 1411.2M1774.3 1704.4C1853.8 1610.7 1935.7 1518.8 2023.1 1427.1M1765.2 1711.8C1848 1622.2 1928 1529.6 2011.8 1434.8M1782.7 1713.1C1859.6 1626.7 1936.6 1541.2 2016.1 1453.1M1782.5 1710.7C1857.8 1627 1932.7 1542.9 2009.4 1455.4M1805.7 1711.1C1871.7 1632 1939.6 1554.3 2012.2 1475.4M1803.9 1709.9C1871.5 1632.5 1940.4 1556.4 2011.2 1478.2M1810.6 1714.2C1876.7 1637.6 1944.3 1562.2 2014.5 1484.1M1815.9 1708C1881.5 1638 1945.6 1566.6 2009.8 1490.7M1836.1 1710.1C1894.7 1645.5 1953.2 1581 2013.2 1514.8M1842.6 1704.6C1901.6 1643.1 1958.4 1579 2014.1 1511.8M1859.4 1705.3C1909.3 1645.2 1962.1 1587.7 2016.2 1529.2M1854 1709.8C1908 1650.9 1962 1592 2015.4 1529.9M1868.2 1712.8C1918.4 1659.3 1967.7 1604.8 2017.7 1548.8M1879.9 1705.1C1921.7 1653.5 1965.6 1603.8 2011.9 1554.6M1896.7 1710.7C1935.7 1665.5 1974.2 1620.3 2013 1572.7M1895.2 1710.7C1937.9 1663.8 1980.1 1616.2 2022.5 1565.3M1911.8 1709C1948.6 1669.1 1984.5 1628.9 2021.6 1588.4M1910.5 1707.3C1942.6 1669.9 1975.4 1632.5 2010.2 1595.3M1922.4 1709.6C1951.5 1677.1 1980.7 1644.7 2009.4 1610.9M1919.9 1713.6C1951.3 1682.5 1980.1 1650.2 2007.5 1614.9M1942 1709.9C1967.1 1683.8 1990.4 1655.4 2014.6 1625.6M1944.9 1707.1C1968 1679 1990.9 1651.2 2018 1624.2M1970.7 1704.5C1987.7 1689.5 2002.1 1671.3 2016.7 1651.9M1961 1709.4C1977.1 1690.4 1994.4 1672.2 2013.3 1653.2M1988.4 1705.9C1998.7 1696.1 2007.8 1685.5 2014.9 1671.9M1980.2 1705.2C1990.1 1694.1 2000.6 1683.1 2013 1673M1999 1714.9C2004.6 1705.4 2010 1696.3 2016.1 1686.5M1994.8 1714.3C1998.5 1703.6 2005.6 1694.7 2015.1 1688.2" fill="none" stroke="#ccd2da" stroke-width="1.3" stroke-opacity="1.0" stroke-linecap="round"/>
<path d="M1516.7 1300.5C1518.2 1435.9 1517.1 1571.7 1515.4 1711.1M1524.6 1299.6C1527.1 1435.3 1529.7 1570.3 1530 1709.6M2008.8 1296.7C2011.1 1433.3 2011.9 1569.5 2012.4 1709.3M2010.9 1297.2C2010.5 1434.2 2012 1571.5 2016 1713M1519.1 1298.7C1682.3 1296.5 1845.6 1296.4 2014.3 1298M1517.4 1304.1C1681.8 1304.5 1845.8 1305.9 2015.2 1305.8M1520.8 1703.5C1684.4 1703.6 1848.1 1704.8 2016.5 1707.2M1520.3 1704.3C1683.5 1706.4 1846.6 1708.1 2014.8 1709.7" fill="none" stroke="#14213d" stroke-width="2.9" stroke-opacity="1" stroke-linecap="round"/>
<path d="M990.8 358.7L1439.7 359L1440.6 388.4L989.7 388.3Z" fill="#000" fill-opacity=".6"/>
<path d="M990.4 358.5C1138.5 359.3 1287 359.6 1440 359.1M1439.4 358.4C1438.7 368.5 1439.2 378.3 1438.9 388.4M1440 387.3C1291.5 387.3 1143 386.3 989.5 388.3M990.2 388.6C991.6 378.6 990.6 368.8 990.1 359.2M989.3 360.1C1138.5 360.4 1287 360.9 1440.6 360.7M1438.5 358C1439 368.5 1438.9 378.3 1439 388.5M1439.9 386.8C1291.5 385.7 1143 385 989.6 386.7M991 388C991.2 378.6 990.5 368.8 991.4 358.7" fill="none" stroke="#000" stroke-opacity=".6" stroke-width="3.6" stroke-linecap="round" stroke-linejoin="round"/>
<path d="M990.9 402L1439.1 400.8L1440.1 433.8L990.4 433.6Z" fill="#000" fill-opacity=".6"/>
<path d="M990.7 402.4C1138.5 402.1 1287 402.9 1439.1 401.4M1439.5 402C1438.9 412.1 1439.4 422.8 1439.7 434M1440.6 432.7C1291.5 433.4 1143 432.7 989.3 433.7M990.9 434.4C989.8 423.1 989.9 412.4 991 401.9M989.3 403.3C1138.5 403.1 1287 403.4 1439.1 403.7M1438.2 401.9C1438.2 412.1 1438.4 422.8 1438.9 434.4M1439.3 432.8C1291.5 432.6 1143 431.4 990.1 432.6M991.5 433.7C991.1 423.1 991.6 412.4 990.9 401.3" fill="none" stroke="#000" stroke-opacity=".6" stroke-width="3.6" stroke-linecap="round" stroke-linejoin="round"/>
<path d="M989.8 453.4L1439.8 454.2L1439.1 486.9L991 486.9Z" fill="#000" fill-opacity=".6"/>
<path d="M989.2 454.5C1138.5 454.1 1287 453.2 1440.7 455.1M1439.2 453.9C1438.8 464.9 1438.9 476 1439.2 487.1M1440.7 486.8C1291.5 487.5 1143 487.1 990 487.1M990.1 487.3C991 476.3 991.2 465.2 990.2 454.4M989.6 456.4C1138.5 455.6 1287 457 1440.3 456M1438.9 454.1C1439.2 464.9 1438.4 476 1439.3 487.2M1440.8 485.8C1291.5 484.9 1143 485.5 990 485.5M991.5 487.5C990.4 476.3 990.8 465.2 991.2 453.4" fill="none" stroke="#000" stroke-opacity=".6" stroke-width="3.6" stroke-linecap="round" stroke-linejoin="round"/>
<path d="M990.5 498.9L1440.5 499.8L1440.6 531L990.2 530.8Z" fill="#000" fill-opacity=".6"/>
<path d="M990 500.7C1138.5 499.1 1287 498.5 1440.5 499.5M1439.7 499.5C1438.5 509.8 1439.7 520.5 1438.6 532.2M1440.2 530.9C1291.5 531.4 1143 531.3 990.7 531.6M991 531.8C990.4 520.8 991.5 510.1 990.2 498.4M989.4 501C1138.5 501.1 1287 502.1 1439.1 500.8M1439.5 499.5C1439.1 509.8 1438.3 520.5 1439.2 532.2M1440.6 530.1C1291.5 530.1 1143 529.6 990.3 529.2M991.6 531.3C990.6 520.8 991.4 510.1 991.9 498.4" fill="none" stroke="#000" stroke-opacity=".6" stroke-width="3.6" stroke-linecap="round" stroke-linejoin="round"/>
<path d="M989.9 550.3L1440.5 550.8L1439.6 583.1L990.3 582.7Z" fill="#000" fill-opacity=".6"/>
<path d="M990.9 551.2C1138.5 550.8 1287 550.8 1440.1 551.6M1439.6 550.7C1440 561.3 1439.5 571.9 1438.6 583.3M1440.3 581.2C1291.5 580.6 1143 582.3 989.5 581.7M990.7 582.7C990.5 572.2 990.4 561.6 990.5 551.4M990.4 551.3C1138.5 553.1 1287 552.7 1440.4 551.9M1438.5 550.8C1439.2 561.3 1439 571.9 1438.5 582.9M1439.9 581.4C1291.5 581 1143 581.9 990.4 581.6M990.7 582.3C990.5 572.2 990.5 561.6 990.8 551" fill="none" stroke="#000" stroke-opacity=".6" stroke-width="3.6" stroke-linecap="round" stroke-linejoin="round"/>
<path d="M990.9 600.8L1439.4 600.7L1439.2 632.1L990.3 631.4Z" fill="#000" fill-opacity=".6"/>
<path d="M989.9 602C1138.5 601.6 1287 601.3 1440.3 601.7M1439 601.2C1439.1 611.2 1438.3 621.5 1438.6 632.4M1440 630.7C1291.5 631.1 1143 631.1 989.4 630.5M991.4 632.5C990.4 621.8 991.1 611.5 991.4 601.5M990.2 602.6C1138.5 602.6 1287 602.4 1439.9 602.2M1438.3 601.5C1438.9 611.2 1439.3 621.5 1438.9 632.5M1440.7 630C1291.5 630.8 1143 631.4 990.3 630.7M991.2 632.4C990.5 621.8 991 611.5 990.8 600.6" fill="none" stroke="#000" stroke-opacity=".6" stroke-width="3.6" stroke-linecap="round" stroke-linejoin="round"/>
<path d="M990.7 647.8L1440 647.5L1439.1 678.1L990.2 677.2Z" fill="#000" fill-opacity=".6"/>
<path d="M989.8 648.9C1138.5 647.8 1287 648.8 1439.8 648.8M1439 647.7C1438.4 657.9 1438.8 667.8 1438.8 678.6M1440.1 676.6C1291.5 678.1 1143 677.7 989.1 677.7M990.1 677.5C991.3 668.1 990.5 658.2 991 648.2M990.9 650.1C1138.5 650.8 1287 649.8 1440.7 649.2M1438.7 647.4C1438.7 657.9 1439 667.8 1438.9 677.6M1440.2 676.3C1291.5 676.2 1143 675.1 990.9 675.5M991.7 678.4C991.4 668.1 992.1 658.2 991.3 647.7" fill="none" stroke="#000" stroke-opacity=".6" stroke-width="3.6" stroke-linecap="round" stroke-linejoin="round"/>
<path d="M991 696.9L1439.5 696.7L1440.1 728.6L990.7 728Z" fill="#000" fill-opacity=".6"/>
<path d="M990.3 696.9C1138.5 695.6 1287 696.4 1440.7 695.9M1439.7 695.4C1439.5 706.7 1440.1 717.3 1439.7 727.9M1439.8 727.7C1291.5 727 1143 727.1 990.1 728.4M990.7 728.6C991.2 717.6 991.1 707 990.3 696.3M989.2 697.5C1138.5 699.1 1287 698.7 1440.1 699M1439.2 696C1439.4 706.7 1438.6 717.3 1439.3 727.9M1439.9 725.6C1291.5 726.2 1143 725.7 990.7 725.8M991.5 728.1C990.4 717.6 990.8 707 991.4 696" fill="none" stroke="#000" stroke-opacity=".6" stroke-width="3.6" stroke-linecap="round" stroke-linejoin="round"/>
<path d="M1535.9 499.5L1985.9 500.5L1985.3 525.1L1534.7 525.2Z" fill="#000" fill-opacity=".6"/>
<path d="M1534.1 499.9C1683.8 500.7 1832.7 500 1986 499.7M1984.8 499.7C1984.5 508.3 1985.2 517 1984.7 526M1985.6 525.7C1837.2 525.8 1688.3 524.9 1535.2 526M1536.1 526.4C1535.2 517.3 1535.2 508.6 1535.2 499.5M1535.5 502C1683.8 501.9 1832.7 501.3 1985.6 501.7M1985 499.1C1985 508.3 1984.9 517 1985.3 525.5M1985.7 525C1837.2 524 1688.3 523.8 1534.1 525.1M1535.7 526.4C1535.4 517.3 1536.5 508.6 1535.5 499.1" fill="none" stroke="#000" stroke-opacity=".6" stroke-width="3.6" stroke-linecap="round" stroke-linejoin="round"/>
<path d="M1534.5 544.2L1985.6 544.6L1985.8 572.5L1535.7 571.3Z" fill="#000" fill-opacity=".6"/>
<path d="M1535.1 544.9C1683.8 545.1 1832.7 545 1985.3 544.4M1985 544.4C1986 553.2 1985.4 562.5 1985.3 572.5M1986.3 570.7C1837.2 570.1 1688.3 570.7 1535.4 571M1535.5 572.4C1536 562.8 1535.3 553.5 1535.1 544.2M1535 546.7C1683.8 545.4 1832.7 545.7 1985.1 546.2M1984.4 543.6C1984.4 553.2 1984.8 562.5 1985.4 571.8M1986.1 568.8C1837.2 570.1 1688.3 571 1535.9 570.1M1536.4 571.7C1535.9 562.8 1535.9 553.5 1536.8 544.2" fill="none" stroke="#000" stroke-opacity=".6" stroke-width="3.6" stroke-linecap="round" stroke-linejoin="round"/>
<path d="M1535.7 593.2L1985.5 592.9L1986.4 625.1L1534.5 625Z" fill="#000" fill-opacity=".6"/>
<path d="M1535.4 593.1C1683.8 593.7 1832.7 594.8 1986.8 593.8M1985.5 592.6C1984.6 603.1 1985.1 613.7 1985.1 624.7M1986.7 624.6C1837.2 624.4 1688.3 624.4 1535.4 624.3M1535.1 624.6C1535.9 614 1536 603.4 1536.5 592M1534.1 594.3C1683.8 592.7 1832.7 593.9 1986.6 594.4M1984.7 593C1984.5 603.1 1985.3 613.7 1984.9 625M1985.2 624C1837.2 624 1688.3 623.5 1534.5 624.3M1535.9 624.7C1536 614 1536.7 603.4 1535.6 592.9" fill="none" stroke="#000" stroke-opacity=".6" stroke-width="3.6" stroke-linecap="round" stroke-linejoin="round"/>
<path d="M992.8 1303.5L1443.5 1302.6L1443.5 1334.2L992.8 1333.2Z" fill="#000" fill-opacity=".6"/>
<path d="M991.5 1302.9C1141.5 1304.1 1290.5 1304.5 1443.9 1303.1M1443.6 1302.7C1443.6 1313.2 1442.8 1323.5 1443.3 1334.7M1443.5 1334.1C1295 1333.8 1146 1332.6 992.1 1333M993.6 1333.6C993.5 1323.8 993.8 1313.5 994 1303.3M993.1 1305.9C1141.5 1304.6 1290.5 1305.5 1444.3 1304.5M1442.7 1302.9C1442.8 1313.2 1442.3 1323.5 1442.9 1334.1M1443.4 1330.8C1295 1332.8 1146 1332.8 993.2 1332.4M994.2 1334.7C993.2 1323.8 993.9 1313.5 994.4 1302.7" fill="none" stroke="#000" stroke-opacity=".6" stroke-width="3.6" stroke-linecap="round" stroke-linejoin="round"/>
<path d="M992.3 1348.8L1443 1348.4L1443.8 1375.6L992.1 1374.7Z" fill="#000" fill-opacity=".6"/>
<path d="M991.7 1348.6C1141.5 1348.1 1290.5 1347.7 1444.6 1350.2M1443.4 1348.3C1443.1 1357.5 1443.1 1366.4 1443.6 1374.9M1444.8 1375.2C1295 1373.5 1146 1375 991.6 1373.9M993.5 1375.1C993.1 1366.6 993.8 1357.7 993.3 1348.2M991.6 1351.5C1141.5 1351.2 1290.5 1351.1 1444.6 1350.7M1442.8 1348.3C1443.2 1357.5 1442.8 1366.4 1442.8 1375.1M1444.4 1372.8C1295 1373.2 1146 1372.5 992.5 1373.6M994 1376C993.8 1366.6 993.9 1357.7 993.7 1349" fill="none" stroke="#000" stroke-opacity=".6" stroke-width="3.6" stroke-linecap="round" stroke-linejoin="round"/>
<path d="M992.1 1396.8L1443.5 1397L1443.8 1427.5L993.5 1428.2Z" fill="#000" fill-opacity=".6"/>
<path d="M993.3 1397.1C1141.5 1397.3 1290.5 1398 1444.3 1398.7M1442.9 1396.5C1442.8 1407.2 1442.9 1417.5 1443.6 1427.9M1444.8 1428C1295 1427.5 1146 1427 993 1426.6M993.1 1427.5C992.7 1417.8 993 1407.5 993.3 1396.5M992.2 1397.8C1141.5 1399 1290.5 1399.9 1444.7 1399.3M1443.1 1396.5C1443 1407.2 1443.1 1417.5 1443.5 1428.2M1443.8 1427.2C1295 1428 1146 1427.5 991.8 1426.4M994.1 1428.3C994 1417.8 993.7 1407.5 993.3 1396.6" fill="none" stroke="#000" stroke-opacity=".6" stroke-width="3.6" stroke-linecap="round" stroke-linejoin="round"/>
<path d="M992.8 1444.5L1443.3 1444.7L1444.5 1473.3L992.4 1473.6Z" fill="#000" fill-opacity=".6"/>
<path d="M992.3 1446.4C1141.5 1445.2 1290.5 1445.2 1443.2 1446.4M1442.6 1444.4C1442.6 1454.2 1443.2 1463.5 1443.5 1473M1443.4 1472.9C1295 1472.4 1146 1472.2 992.9 1471.5M993 1473.4C992.4 1463.8 993 1454.5 993.6 1445.3M991.5 1446.9C1141.5 1446.6 1290.5 1446.7 1444.8 1446M1443 1445C1443 1454.2 1442.6 1463.5 1443.2 1473M1443.7 1471.5C1295 1471.2 1146 1471.4 991.9 1471.4M994.2 1472.5C994.5 1463.8 993.9 1454.5 993.7 1445.3" fill="none" stroke="#000" stroke-opacity=".6" stroke-width="3.6" stroke-linecap="round" stroke-linejoin="round"/>
<path d="M992.5 1494.5L1444.5 1495.2L1444 1522.6L992.1 1522.9Z" fill="#000" fill-opacity=".6"/>
<path d="M992.8 1496.1C1141.5 1494.7 1290.5 1495.6 1444.1 1496.1M1443.3 1494.4C1442.3 1504.1 1442.9 1513.4 1442.6 1523.3M1444 1522.7C1295 1522.7 1146 1523.5 992.8 1523M993.5 1523C993.8 1513.7 992.8 1504.4 992.7 1494.7M993.1 1496.4C1141.5 1496.1 1290.5 1496.9 1444.8 1498.1M1442.4 1494.7C1443.2 1504.1 1443.2 1513.4 1443.1 1523.6M1444.3 1519.6C1295 1520.4 1146 1521.5 992.3 1519.6M993.4 1523C993.8 1513.7 992.8 1504.4 993.7 1494.1" fill="none" stroke="#000" stroke-opacity=".6" stroke-width="3.6" stroke-linecap="round" stroke-linejoin="round"/>
<path d="M993 1545.7L1443.1 1545.9L1443.6 1576L992 1574.7Z" fill="#000" fill-opacity=".6"/>
<path d="M993.4 1547.1C1141.5 1545.4 1290.5 1546.3 1443.2 1546.6M1443.3 1545.4C1442.6 1555.5 1443 1565.3 1443.1 1575.4M1443.8 1575.6C1295 1574 1146 1574.9 992.3 1574.6M993.1 1575.7C993.4 1565.6 993.2 1555.8 992.9 1545.9M993 1546.2C1141.5 1547.4 1290.5 1547.8 1444.8 1546.4M1443.3 1546.3C1442.5 1555.5 1443 1565.3 1442.7 1575.9M1444.6 1573.2C1295 1573.2 1146 1573.4 991.7 1574M993.8 1576.1C994.3 1565.6 993.6 1555.8 993.4 1546.1" fill="none" stroke="#000" stroke-opacity=".6" stroke-width="3.6" stroke-linecap="round" stroke-linejoin="round"/>
<path d="M993 1591.1L1443.7 1591.1L1443.2 1620.1L992.3 1620.3Z" fill="#000" fill-opacity=".6"/>
<path d="M993.3 1591.9C1141.5 1593 1290.5 1591.9 1444.8 1592.6M1443.3 1590.7C1443.2 1600.9 1443.4 1610.8 1443.7 1620.4M1444.1 1621.2C1295 1619.6 1146 1619.4 993.5 1619.9M993.4 1620.6C994.1 1611.1 993.5 1601.2 993.7 1591M992.6 1592.8C1141.5 1593.1 1290.5 1593.2 1443.9 1592.6M1442.3 1590.9C1442.3 1600.9 1443.2 1610.8 1442.2 1621.1M1444.9 1617.5C1295 1619.1 1146 1618.3 992.9 1618.7M993.5 1621C993.5 1611.1 992.9 1601.2 993.5 1591.7" fill="none" stroke="#000" stroke-opacity=".6" stroke-width="3.6" stroke-linecap="round" stroke-linejoin="round"/>
<path d="M993.3 1644.2L1444.3 1643.7L1443.8 1673.3L992.1 1672.4Z" fill="#000" fill-opacity=".6"/>
<path d="M992.4 1645.2C1141.5 1643.3 1290.5 1644.3 1444.9 1644.1M1443.2 1643C1444 1653.2 1443.1 1663 1443.7 1672.4M1443.3 1671.7C1295 1671.4 1146 1670.3 993.1 1671.9M993 1673.5C992.9 1663.3 993.2 1653.5 992.7 1643.7M992.5 1645.5C1141.5 1647.1 1290.5 1645.6 1443.2 1645.6M1442.5 1642.9C1442.7 1653.2 1443.3 1663 1443.4 1673.4M1443.4 1669.9C1295 1669.3 1146 1669.3 991.9 1670.7M993.7 1672.7C993.4 1663.3 993.7 1653.5 993.9 1644.1" fill="none" stroke="#000" stroke-opacity=".6" stroke-width="3.6" stroke-linecap="round" stroke-linejoin="round"/>
<path d="M1539.2 1440.6L1993.2 1441.1L1993.3 1472.1L1539.9 1471.9Z" fill="#000" fill-opacity=".6"/>
<path d="M1539.6 1441.5C1688.8 1441.1 1838.6 1441.9 1992.2 1442.6M1992.4 1441.6C1991.5 1451.2 1991.5 1461.5 1992.4 1472.3M1993.5 1471.1C1843.2 1472.2 1693.4 1472.5 1538.2 1471.3M1540 1472.3C1539.4 1461.8 1540.3 1451.5 1540.2 1440.9M1539.8 1442.4C1688.8 1441.5 1838.6 1442.4 1993.4 1442.2M1991.6 1441.7C1991.3 1451.2 1991.2 1461.5 1992.1 1471.7M1993.8 1470.1C1843.2 1469.5 1693.4 1470.9 1538.5 1470M1539.6 1472.2C1540.2 1461.8 1539.8 1451.5 1540.5 1441.3" fill="none" stroke="#000" stroke-opacity=".6" stroke-width="3.6" stroke-linecap="round" stroke-linejoin="round"/>
<path d="M1539.8 1484.4L1992.2 1484.4L1992.9 1517.4L1538.8 1517.4Z" fill="#000" fill-opacity=".6"/>
<path d="M1539.9 1486.6C1688.8 1484.8 1838.6 1484.9 1992.1 1486.1M1992.4 1485.6C1992.5 1495.8 1992 1506.5 1992.5 1518.2M1993.8 1517.4C1843.2 1516.4 1693.4 1517.4 1539.9 1517.3M1539.2 1517.7C1539.7 1506.8 1540.1 1496.1 1539.9 1485.3M1539.4 1487.9C1688.8 1487.5 1838.6 1486.8 1992.7 1487.1M1991.5 1484.8C1990.9 1495.8 1991.7 1506.5 1992 1517.1M1992.8 1514.6C1843.2 1516.4 1693.4 1515.9 1538.8 1515.7M1540.1 1516.9C1541 1506.8 1540.4 1496.1 1539.8 1484.8" fill="none" stroke="#000" stroke-opacity=".6" stroke-width="3.6" stroke-linecap="round" stroke-linejoin="round"/>
<path d="M1538.7 1536.9L1992.4 1537L1993.1 1565.8L1539.6 1566Z" fill="#000" fill-opacity=".6"/>
<path d="M1539 1538C1688.8 1537.4 1838.6 1538.5 1993.9 1537.2M1991.5 1537.2C1992.6 1546.4 1992 1556 1992.1 1565.9M1993.4 1565.5C1843.2 1564.6 1693.4 1564.9 1538.1 1564.7M1539.9 1565.8C1539.2 1556.3 1539.2 1546.7 1540.4 1537.4M1538.6 1538.6C1688.8 1536.6 1838.6 1537.2 1993.8 1537.4M1991.3 1536.6C1992 1546.4 1991.7 1556 1991.6 1566.3M1993.3 1563.7C1843.2 1562.8 1693.4 1563.9 1539.2 1565.3M1540.8 1566.3C1539.8 1556.3 1539.8 1546.7 1540.6 1536.1" fill="none" stroke="#000" stroke-opacity=".6" stroke-width="3.6" stroke-linecap="round" stroke-linejoin="round"/>
<text class="dot" x="1202.6" y="752.7">.</text>
<text class="dot" x="1202.6" y="793.7">.</text>
<text class="dot" x="1202.6" y="833.2">.</text>
<text class="dot" x="1766.6" y="647.6">.</text>
<text class="dot" x="1766.6" y="689.2">.</text>
<text class="dot" x="1766.6" y="728.5">.</text>
<text class="dot" x="1206" y="1695.5">.</text>
<text class="dot" x="1206" y="1737.2">.</text>
<text class="dot" x="1206" y="1776.2">.</text>
<text class="dot" x="1770" y="1591.2">.</text>
<text class="dot" x="1770" y="1631.9">.</text>
<text class="dot" x="1770" y="1671.2">.</text>
<path d="M623.5 557.3C742.6 556.9 861.8 558 984.5 558.5M627.5 559.9C742.6 560.2 861.8 560.1 982.5 559.8" fill="none" stroke="#14213d" stroke-opacity="0.5" stroke-width="9.2" stroke-linecap="round" stroke-linejoin="round"/>
<path d="M895.7 524.4Q941.9 540.8 987 559.6M897.3 520.6Q942.8 538.6 987 559.6" fill="none" stroke="#14213d" stroke-opacity="0.5" stroke-width="6.6" stroke-linecap="round" stroke-linejoin="round"/>
<path d="M897 585.9Q942.5 574.4 987 559.6M896 582.1Q941.8 572.1 987 559.6" fill="none" stroke="#14213d" stroke-opacity="0.5" stroke-width="6.6" stroke-linecap="round" stroke-linejoin="round"/>
<path d="M626.5 1484.3C743.3 1483.9 860.1 1483.6 980.5 1484.1M630.5 1486.9C743.3 1487.2 860.1 1485.7 978.5 1485.4" fill="none" stroke="#14213d" stroke-opacity="0.5" stroke-width="9.2" stroke-linecap="round" stroke-linejoin="round"/>
<path d="M887.4 1461Q934.9 1472 983 1481M887.6 1459.6Q935.1 1471.2 983 1481" fill="none" stroke="#14213d" stroke-opacity="0.5" stroke-width="6.3" stroke-linecap="round" stroke-linejoin="round"/>
<path d="M888.8 1521.9Q935 1502.6 981.5 1484M888.2 1520.7Q934.7 1501.8 981.5 1484" fill="none" stroke="#14213d" stroke-opacity="0.5" stroke-width="6.3" stroke-linecap="round" stroke-linejoin="round"/>
<path d="M646.0 965.0L950.2 799.6" fill="none" stroke="#14213d" stroke-opacity="0.5" stroke-width="7.3" stroke-linecap="round" stroke-linejoin="round" stroke-dasharray="24.7 28.95"/>
<path d="M885.5 798.6Q936 786.5 977.5 783.6" fill="none" stroke="#14213d" stroke-opacity="0.5" stroke-width="7.0" stroke-linecap="round" stroke-linejoin="round"/>
<path d="M914 851Q939 813 977.5 783.6" fill="none" stroke="#14213d" stroke-opacity="0.5" stroke-width="7.0" stroke-linecap="round" stroke-linejoin="round"/>
<path d="M651.5 1027.3L941.1 1218.1" fill="none" stroke="#14213d" stroke-opacity="0.5" stroke-width="7.3" stroke-linecap="round" stroke-linejoin="round" stroke-dasharray="24.7 28.95"/>
<path d="M913.8 1168.5Q942.5 1203.5 971 1237.5" fill="none" stroke="#14213d" stroke-opacity="0.5" stroke-width="7.0" stroke-linecap="round" stroke-linejoin="round"/>
<path d="M880.5 1218.5Q922 1233 971 1237.5" fill="none" stroke="#14213d" stroke-opacity="0.5" stroke-width="7.0" stroke-linecap="round" stroke-linejoin="round"/>
<text y="86.5" font-size="54" fill="#14213d" stroke="#14213d" stroke-width="0.7"><tspan x="1142" y="85.5" textLength="159.5" lengthAdjust="spacingAndGlyphs">table</tspan> <tspan x="1329" y="85.7" textLength="116" lengthAdjust="spacingAndGlyphs">with</tspan> <tspan x="1468" y="87.8" textLength="201" lengthAdjust="spacingAndGlyphs">primary</tspan> <tspan x="1700" y="86.2" textLength="150" lengthAdjust="spacingAndGlyphs">index</tspan></text>
<text y="158.5" font-size="54" fill="#14213d" stroke="#14213d" stroke-width="0.7"><tspan x="1009" y="158.6" textLength="265" lengthAdjust="spacingAndGlyphs">optimized</tspan> <tspan x="1300" y="157.9" textLength="94" lengthAdjust="spacingAndGlyphs">for</tspan> <tspan x="1420" y="158.4" textLength="224" lengthAdjust="spacingAndGlyphs">filtering</tspan> <tspan x="1671.5" y="158.5" textLength="64.5" lengthAdjust="spacingAndGlyphs">on</tspan> <tspan x="1760" y="158.5" textLength="220" lengthAdjust="spacingAndGlyphs">UserID</tspan></text>
<text y="1905.5" font-size="54" fill="#14213d" stroke="#14213d" stroke-width="0.7"><tspan x="1124" y="1904.5" textLength="159.4" lengthAdjust="spacingAndGlyphs">table</tspan> <tspan x="1311" y="1904.7" textLength="116.5" lengthAdjust="spacingAndGlyphs">with</tspan> <tspan x="1450" y="1906.8" textLength="203" lengthAdjust="spacingAndGlyphs">primary</tspan> <tspan x="1682" y="1905.2" textLength="151.4" lengthAdjust="spacingAndGlyphs">index</tspan></text>
<text y="1977.5" font-size="54" fill="#14213d" stroke="#14213d" stroke-width="0.7"><tspan x="1039" y="1977.6" textLength="266" lengthAdjust="spacingAndGlyphs">optimized</tspan> <tspan x="1328" y="1977" textLength="94" lengthAdjust="spacingAndGlyphs">for</tspan> <tspan x="1448" y="1977.4" textLength="224" lengthAdjust="spacingAndGlyphs">filtering</tspan> <tspan x="1699.5" y="1977.5" textLength="67.5" lengthAdjust="spacingAndGlyphs">on</tspan> <tspan x="1791" y="1977.5" textLength="124" lengthAdjust="spacingAndGlyphs">URL</tspan></text>
<text y="538" font-size="54" fill="#14213d" stroke="#14213d" stroke-width="0.7"><tspan x="226" y="538.9" textLength="167" lengthAdjust="spacingAndGlyphs">Query</tspan></text>
<text y="608" font-size="54" fill="#14213d" stroke="#14213d" stroke-width="0.7"><tspan x="46" y="607.9" textLength="226" lengthAdjust="spacingAndGlyphs">filtering</tspan> <tspan x="298" y="608" textLength="64.4" lengthAdjust="spacingAndGlyphs">on</tspan> <tspan x="387" y="608" textLength="219" lengthAdjust="spacingAndGlyphs">UserID</tspan></text>
<text y="1459" font-size="54" fill="#14213d" stroke="#14213d" stroke-width="0.7"><tspan x="254.4" y="1459.9" textLength="167.6" lengthAdjust="spacingAndGlyphs">Query</tspan></text>
<text y="1528.5" font-size="54" fill="#14213d" stroke="#14213d" stroke-width="0.7"><tspan x="105" y="1528.4" textLength="227" lengthAdjust="spacingAndGlyphs">filtering</tspan> <tspan x="356.4" y="1528.5" textLength="66.6" lengthAdjust="spacingAndGlyphs">on</tspan> <tspan x="448" y="1528.5" textLength="123" lengthAdjust="spacingAndGlyphs">URL</tspan></text>
<text y="298" font-size="54" fill="#14213d" stroke="#14213d" stroke-width="0.7"><tspan x="1109.2" y="297" textLength="159.4" lengthAdjust="spacingAndGlyphs">table</tspan> <tspan x="1287.5" y="298">1</tspan></text>
<text y="1241.5" font-size="54" fill="#14213d" stroke="#14213d" stroke-width="0.7"><tspan x="1104.4" y="1240.5" textLength="160.3" lengthAdjust="spacingAndGlyphs">table</tspan> <tspan x="1290.6" y="1241.5" textLength="44.9" lengthAdjust="spacingAndGlyphs">2</tspan></text>
<text y="441.5" font-size="54" fill="#14213d" stroke="#14213d" stroke-width="0.7"><tspan x="1567.6" y="442.8" textLength="202.4" lengthAdjust="spacingAndGlyphs">primary</tspan> <tspan x="1797.5" y="441.2" textLength="149" lengthAdjust="spacingAndGlyphs">index</tspan></text>
<text y="1384" font-size="54" fill="#14213d" stroke="#14213d" stroke-width="0.7"><tspan x="1573" y="1385.2" textLength="203.3" lengthAdjust="spacingAndGlyphs">primary</tspan> <tspan x="1804.4" y="1383.7" textLength="148.2" lengthAdjust="spacingAndGlyphs">index</tspan></text>
<text y="955" font-size="58" fill="#14213d" stroke="#14213d" stroke-width="0.7" opacity="0.5"><tspan x="39.6" y="954.7" textLength="189.8" lengthAdjust="spacingAndGlyphs">Insert</tspan> <tspan x="260.5" y="954.5" textLength="341.5" lengthAdjust="spacingAndGlyphs">statements</tspan></text>
<text y="1030" font-size="58" fill="#14213d" stroke="#14213d" stroke-width="0.7" opacity="0.5"><tspan x="35.7" y="1029.6" textLength="159.3" lengthAdjust="spacingAndGlyphs">(need</tspan> <tspan x="218.4" y="1029.2" textLength="74.3" lengthAdjust="spacingAndGlyphs">to</tspan> <tspan x="315.4" y="1029.2" textLength="71.6" lengthAdjust="spacingAndGlyphs">be</tspan> <tspan x="407.5" y="1029.5" textLength="202.1" lengthAdjust="spacingAndGlyphs">routed</tspan></text>
<text y="1105" font-size="58" fill="#14213d" stroke="#14213d" stroke-width="0.7" opacity="0.5"><tspan x="74" y="1104.2" textLength="72.1" lengthAdjust="spacingAndGlyphs">to</tspan> <tspan x="172.2" y="1103.8" textLength="134" lengthAdjust="spacingAndGlyphs">both</tspan> <tspan x="329.6" y="1104.2" textLength="214.1" lengthAdjust="spacingAndGlyphs">tables)</tspan></text>
</svg>
</body></html>
